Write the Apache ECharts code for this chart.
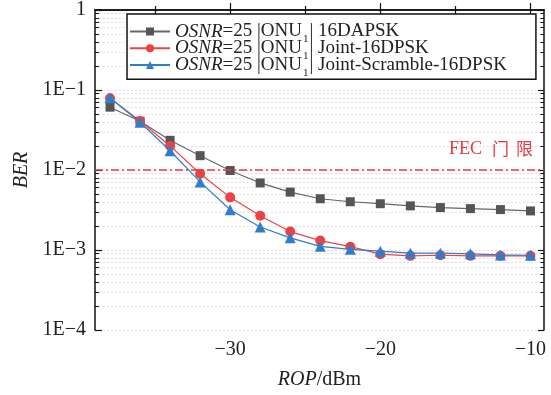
<!DOCTYPE html>
<html><head><meta charset="utf-8">
<script src="https://cdn.jsdelivr.net/npm/echarts@6/dist/echarts.min.js"></script>
<style>html,body{margin:0;padding:0;background:#fff}#c{width:551px;height:395px}</style>
</head><body><div id="c"></div>
<script>
const rop = [-38,-36,-34,-32,-30,-28,-26,-24,-22,-20,-18,-16,-14,-12,-10];
const berDAPSK = [0.061,0.0407,0.0235,0.0151,0.00986,0.00689,0.00529,0.00437,0.00401,0.00379,0.00356,0.00339,0.00329,0.0032,0.00308];
const berJoint = [0.0787,0.041,0.020,0.00898,0.00455,0.00268,0.0017,0.00131,0.0011,0.000887,0.000845,0.00086,0.000845,0.000845,0.000845];
const berScramble = [0.08,0.0395,0.0174,0.0071,0.00318,0.00194,0.00142,0.00111,0.00102,0.000966,0.000912,0.000912,0.000895,0.000869,0.00086];
const seriesNames = ['DAPSK','Joint','Scramble'];
const legendTails = ['16DAPSK','Joint-16DPSK','Joint-Scramble-16DPSK'];
const fecLevel = 0.01;
const fecText = ['FEC','门','限'];
const xMajorTicks = [-30,-20,-10];
const xMinorTicks = [-35,-25,-15];
const yDecades = [-4,-3,-2,-1,0];
const xName = ['ROP','/dBm'];
const yName = 'BER';

const serif = '"Liberation Serif","Times New Roman",serif';
const yMinor = [];
for (let d = -4; d < 0; d++) for (let k = 2; k <= 9; k++) yMinor.push(d + Math.log10(k));
const yAll = yMinor.concat(yDecades);
const pairs = a => rop.map((x,i)=>[x,a[i]]);
const colors = ['#555555','#ec4243','#2f7ecb'];
const fecColor = '#e8383d';

const chart = echarts.init(document.getElementById('c'), null, {renderer:'canvas'});
const hiddenX = {type:'value', min:-39, max:-9.1, axisLabel:{show:false}, splitLine:{show:false}, axisLine:{show:false}};
const hiddenY = {type:'value', min:-4, max:0, axisLabel:{show:false}, splitLine:{show:false}, axisLine:{show:false}};
chart.setOption({
  animation:false,
  grid:{left:95, right:7, top:7, bottom:63, containLabel:false},
  xAxis:[
    {type:'value', min:-39, max:-9.1, position:'bottom',
     name:'{i|'+xName[0]+'}{n|'+xName[1]+'}', nameLocation:'middle', nameGap:40,
     nameTextStyle:{rich:{i:{fontFamily:serif,fontStyle:'italic',fontSize:20,color:'#222'},n:{fontFamily:serif,fontSize:20,color:'#222'}}},
     axisLine:{show:true,lineStyle:{color:'#111',width:1.5}},
     axisTick:{show:true,inside:true,length:7,customValues:xMajorTicks,lineStyle:{color:'#111',width:1.2}},
     axisLabel:{customValues:xMajorTicks,fontFamily:serif,fontSize:20,color:'#222',margin:10,
       formatter:v=>String(v).replace('-','\u2212')},
     splitLine:{show:false}},
    Object.assign({}, hiddenX, {position:'bottom', axisTick:{show:true,inside:true,length:4,customValues:xMinorTicks,lineStyle:{color:'#111',width:1.2}}}),
    Object.assign({}, hiddenX, {position:'top', axisLine:{show:true,lineStyle:{color:'#111',width:1.5}},
      axisTick:{show:true,inside:true,length:5,customValues:xMajorTicks.concat(xMinorTicks),lineStyle:{color:'#111',width:1.2}}})
  ],
  yAxis:[
    {type:'log', logBase:10, min:1e-4, max:1, position:'left',
     name:yName, nameLocation:'middle', nameGap:60,
     nameTextStyle:{fontFamily:serif,fontStyle:'italic',fontSize:20,color:'#222'},
     axisLine:{show:true,lineStyle:{color:'#111',width:1.5}},
     axisTick:{show:true,inside:true,length:7,lineStyle:{color:'#111',width:1.2}},
     axisLabel:{fontFamily:serif,fontSize:20,color:'#222',margin:9,
       formatter:v=>{const e=Math.round(Math.log10(v));return e===0?'1':'1E\u2212'+(-e);}},
     splitLine:{show:false}},
    Object.assign({}, hiddenY, {position:'left',
      axisTick:{show:true,inside:true,length:4,customValues:yAll,lineStyle:{color:'#111',width:1}},
      splitLine:{show:true,lineStyle:{color:'#e0e0e0',type:[2,2],width:1}}}),
    Object.assign({}, hiddenY, {position:'right', axisLine:{show:true,lineStyle:{color:'#111',width:1.5}},
      axisTick:{show:true,inside:true,length:6,customValues:yDecades,lineStyle:{color:'#111',width:1.2}}}),
    Object.assign({}, hiddenY, {position:'right',
      axisTick:{show:true,inside:true,length:3.5,customValues:yMinor,lineStyle:{color:'#111',width:1}}})
  ],
  legend:{
    orient:'vertical', left:127, top:14,
    padding:[8,29,1,2], itemGap:-6, itemWidth:40, itemHeight:10,
    borderColor:'#111', borderWidth:1.5, backgroundColor:'#fff',
    data:seriesNames,
    formatter:name=>{const i=seriesNames.indexOf(name);return '{i|OSNR}{n|=25 |ONU}{s|1}{n|| '+legendTails[i]+'}';},
    textStyle:{rich:{
      i:{fontFamily:serif,fontStyle:'italic',fontSize:19,color:'#222',lineHeight:16.5,verticalAlign:'middle'},
      n:{fontFamily:serif,fontSize:19,color:'#222',lineHeight:16.5,verticalAlign:'middle'},
      s:{fontFamily:serif,fontSize:11,color:'#222',lineHeight:4,verticalAlign:'top',padding:[10.5,1,0,1]}}}
  },
  series:[
    {name:'fec', type:'line', data:[], xAxisIndex:0, yAxisIndex:0, silent:true,
     markLine:{silent:true, symbol:'none', animation:false,
       lineStyle:{color:fecColor,width:1.5,type:[8,3,2,3]},
       label:{show:true,position:'insideEndTop',distance:[11,12],
         formatter:'{a|'+fecText[0]+'}{b|'+fecText[1]+'}{c|'+fecText[2]+'}',
         rich:{a:{color:fecColor,fontSize:18,fontFamily:serif,padding:[0,10,0,0]},
               b:{color:fecColor,fontSize:17,fontFamily:'"Noto Sans CJK SC"',padding:[0,7,0,0]},
               c:{color:fecColor,fontSize:17,fontFamily:'"Noto Sans CJK SC"'}}},
       data:[{yAxis:fecLevel}]}},
    {name:seriesNames[0], type:'line', data:pairs(berDAPSK), symbol:'rect', symbolSize:9,
     itemStyle:{color:colors[0]}, lineStyle:{color:'#666',width:1.2}, z:3},
    {name:seriesNames[1], type:'line', data:pairs(berJoint), symbol:'circle', symbolSize:10,
     itemStyle:{color:colors[1]}, lineStyle:{color:colors[1],width:1.2}, z:4},
    {name:seriesNames[2], type:'line', data:pairs(berScramble), symbol:'triangle', symbolSize:11,
     itemStyle:{color:colors[2]}, lineStyle:{color:colors[2],width:1.2}, z:5}
  ]
});
</script></body></html>
